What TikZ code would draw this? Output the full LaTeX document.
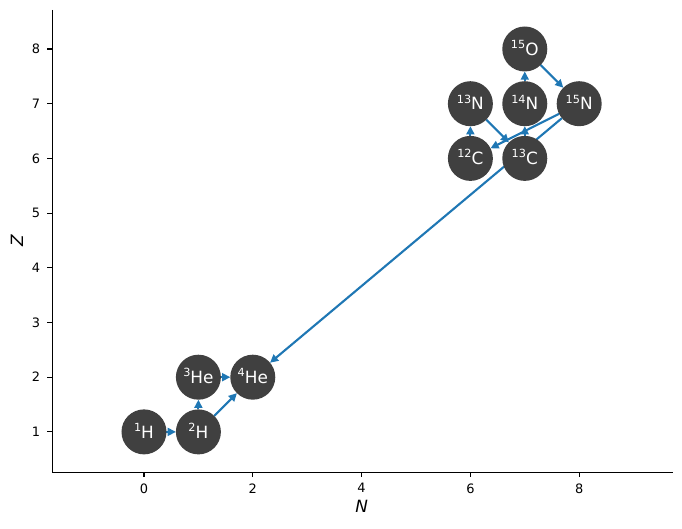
\documentclass[tikz,border=0pt]{standalone}
\usepackage{fontspec}
\setmainfont{DejaVu Sans}
\usetikzlibrary{arrows.meta,backgrounds}
\definecolor{edgeblue}{HTML}{1F77B4}
\definecolor{nodegray}{HTML}{404040}
\newcommand{\iso}[2]{\smash{\raisebox{4.7pt}{\fontsize{8}{8}\selectfont #1}}#2}
\begin{document}
\begin{tikzpicture}[x=1.36cm,y=1.3675cm,
  nuc/.style={circle,fill=nodegray,minimum size=1.125cm,inner sep=0pt,outer sep=0pt,text=white,font=\fontsize{12}{14}\selectfont},
  flow/.style={draw=edgeblue,line width=1.5pt,-{Triangle[length=5.8pt,width=5.6pt]}},
  spine/.style={line width=0.8pt,black},
  axtick/.style={line width=0.8pt,black},
  ticklab/.style={font=\fontsize{9.2}{11}\selectfont,inner sep=0pt},
  axlab/.style={font=\fontsize{12}{14}\selectfont\itshape,inner sep=0pt}
]
\useasboundingbox (-2.647,-0.773) rectangle (9.890,8.896);
% axes
\coordinate (o) at (-1.686,0.263);
\coordinate (xe) at (9.719,0.263);
\coordinate (ye) at (-1.686,8.713);
\draw[spine] (ye) -- (o) -- (xe);
\foreach \n in {0,2,4,6,8}{
  \draw[axtick] (\n,0.263) -- (\n,0.173);
  \node[ticklab,anchor=north] (xt\n) at (\n,0.062) {\n};
}
\foreach \z in {1,...,8}{
  \draw[axtick] (-1.686,\z) -- (-1.776,\z);
  \node[ticklab,anchor=east] (yt\z) at (-1.906,\z) {\z};
}
\node[axlab] (xlab) at (4.0,-0.365) {N};
\node[axlab,rotate=90] (ylab) at (-2.335,4.491) {Z};
% nuclei
\node[nuc] (H1) at (0,1) {\iso{1}{H}};
\node[nuc] (H2) at (1,1) {\iso{2}{H}};
\node[nuc] (He3) at (1,2) {\iso{3}{He}};
\node[nuc] (He4) at (2,2) {\iso{4}{He}};
\node[nuc] (C12) at (6,6) {\iso{12}{C}};
\node[nuc] (N13) at (6,7) {\iso{13}{N}};
\node[nuc] (C13) at (7,6) {\iso{13}{C}};
\node[nuc] (N14) at (7,7) {\iso{14}{N}};
\node[nuc] (O15) at (7,8) {\iso{15}{O}};
\node[nuc] (N15) at (8,7) {\iso{15}{N}};
% reactions
\begin{scope}[on background layer]
\draw[flow] (H1) -- (H2);
\draw[flow] (H2) -- (He3);
\draw[flow] (H2) -- (He4);
\draw[flow] (He3) -- (He4);
\draw[flow] (C12) -- (N13);
\draw[flow] (N13) -- (C13);
\draw[flow] (C13) -- (N14);
\draw[flow] (N14) -- (O15);
\draw[flow] (O15) -- (N15);
\draw[flow] (N15) -- (C12);
\draw[flow] (N15) -- (He4);
\end{scope}
\end{tikzpicture}
\end{document}
